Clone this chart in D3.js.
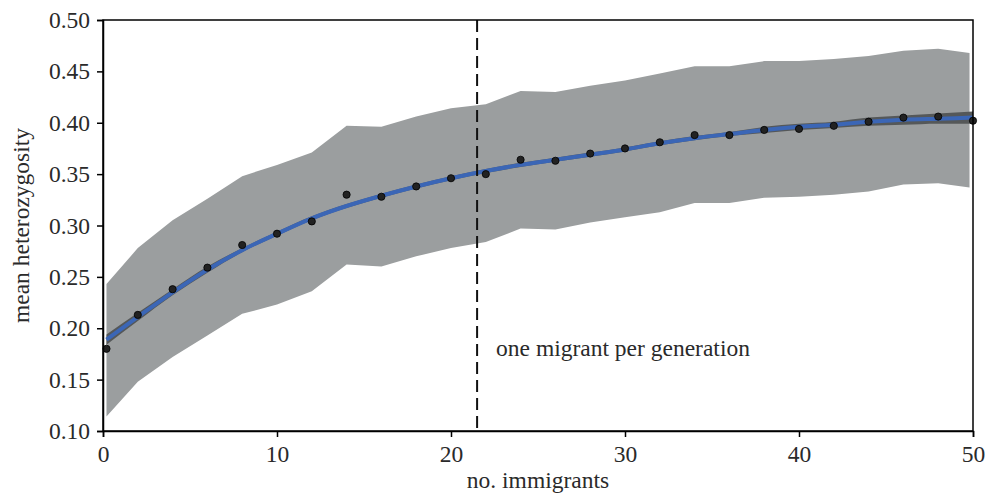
<!DOCTYPE html>
<html>
<head>
<meta charset="utf-8">
<script src="https://cdn.jsdelivr.net/npm/d3@7"></script>
<style>
  html, body { margin: 0; padding: 0; background: #fff; }
  svg { display: block; }
  text { font-family: "Liberation Serif", "Times New Roman", serif; fill: #2a2a2a; }
</style>
</head>
<body>
<svg id="chart" width="987" height="497"></svg>
<script>
// ---- data ----
const pointX = [0.2, 2, 4, 6, 8, 10, 12, 14, 16, 18, 20, 22, 24, 26, 28, 30, 32, 34, 36, 38, 40, 42, 44, 46, 48, 50];
const pointY = [0.180, 0.213, 0.238, 0.259, 0.281, 0.292, 0.304, 0.330, 0.328, 0.338, 0.346, 0.350, 0.364, 0.363, 0.370, 0.375, 0.381, 0.388, 0.388, 0.393, 0.394, 0.397, 0.401, 0.405, 0.406, 0.402];

const bandX = [0.2, 2, 4, 6, 8, 10, 12, 14, 16, 18, 20, 22, 24, 26, 28, 30, 32, 34, 36, 38, 40, 42, 44, 46, 48, 49.8];
const bandUpper = [0.243, 0.278, 0.305, 0.326, 0.348, 0.359, 0.371, 0.397, 0.396, 0.406, 0.414, 0.418, 0.431, 0.430, 0.436, 0.441, 0.448, 0.455, 0.455, 0.460, 0.460, 0.462, 0.465, 0.470, 0.472, 0.468];
const bandLower = [0.114, 0.148, 0.172, 0.193, 0.214, 0.223, 0.236, 0.262, 0.260, 0.270, 0.278, 0.284, 0.297, 0.296, 0.303, 0.308, 0.313, 0.322, 0.322, 0.327, 0.328, 0.330, 0.333, 0.340, 0.341, 0.337];

const fitX = [0.2, 2, 4, 6, 8, 10, 12, 14, 16, 18, 20, 22, 24, 26, 28, 30, 32, 34, 36, 38, 40, 42, 44, 46, 48, 50];
const fitY = [0.189, 0.211, 0.235, 0.257, 0.276, 0.292, 0.307, 0.319, 0.329, 0.338, 0.346, 0.353, 0.359, 0.364, 0.369, 0.374, 0.380, 0.385, 0.389, 0.393, 0.396, 0.398, 0.401, 0.403, 0.404, 0.405];
const fitLower = [0.184, 0.207, 0.232, 0.254, 0.274, 0.290, 0.305, 0.317, 0.327, 0.336, 0.344, 0.351, 0.357, 0.362, 0.367, 0.372, 0.378, 0.383, 0.387, 0.390, 0.393, 0.395, 0.397, 0.398, 0.399, 0.399];
const fitUpper = [0.194, 0.215, 0.238, 0.260, 0.278, 0.294, 0.309, 0.321, 0.331, 0.340, 0.348, 0.355, 0.361, 0.366, 0.371, 0.376, 0.382, 0.387, 0.391, 0.396, 0.399, 0.401, 0.405, 0.407, 0.409, 0.411];

const xTicks = [0, 10, 20, 30, 40, 50];
const yTicks = [0.10, 0.15, 0.20, 0.25, 0.30, 0.35, 0.40, 0.45, 0.50];
const markerX = [21.5];
const markerLabel = "one migrant per generation";
const xLabel = "no. immigrants";
const yLabel = "mean heterozygosity";

// ---- layout ----
const W = 987, H = 497;
const m = { left: 103, right: 14, top: 20, bottom: 66 };
const iw = W - m.left - m.right, ih = H - m.top - m.bottom;
const FS = 23.5;

const svg = d3.select("#chart");
const g = svg.append("g").attr("transform", `translate(${m.left},${m.top})`);

const x = d3.scaleLinear().domain([0, 50]).range([0, iw]);
const y = d3.scaleLinear().domain([0.10, 0.50]).range([ih, 0]);

// grey range band
const bandData = bandX.map((d, i) => ({ x: d, lo: bandLower[i], hi: bandUpper[i] }));
g.append("path")
  .datum(bandData)
  .attr("fill", "#9b9e9f")
  .attr("d", d3.area().x(d => x(d.x)).y0(d => y(d.lo)).y1(d => y(d.hi)));

// fit CI band
const fitData = fitX.map((d, i) => ({ x: d, y: fitY[i], lo: fitLower[i], hi: fitUpper[i] }));
g.append("path")
  .datum(fitData)
  .attr("fill", "#555859")
  .attr("d", d3.area().curve(d3.curveMonotoneX).x(d => x(d.x)).y0(d => y(d.lo)).y1(d => y(d.hi)));

// fit line
g.append("path")
  .datum(fitData)
  .attr("fill", "none")
  .attr("stroke", "#3b66b6")
  .attr("stroke-width", 4)
  .attr("d", d3.line().curve(d3.curveMonotoneX).x(d => x(d.x)).y(d => y(d.y)));

// points
g.selectAll("circle.pt")
  .data(pointX.map((d, i) => ({ x: d, y: pointY[i] })))
  .join("circle")
  .attr("class", "pt")
  .attr("cx", d => x(d.x))
  .attr("cy", d => y(d.y))
  .attr("r", 3.6)
  .attr("fill", "#222")
  .attr("stroke", "#000")
  .attr("stroke-width", 0.8);

// dashed marker line
g.selectAll("line.marker")
  .data(markerX)
  .join("line")
  .attr("class", "marker")
  .attr("x1", d => x(d)).attr("x2", d => x(d))
  .attr("y1", 0).attr("y2", ih)
  .attr("stroke", "#111")
  .attr("stroke-width", 2)
  .attr("stroke-dasharray", "12,6");

g.append("text")
  .attr("x", x(markerX[0]) + 19)
  .attr("y", 336)
  .attr("font-size", FS)
  .text(markerLabel);

// frame
g.append("rect")
  .attr("x", 0).attr("y", 0).attr("width", iw).attr("height", ih)
  .attr("fill", "none").attr("stroke", "#000").attr("stroke-width", 1.5);

// axes
const xAxis = g.append("g")
  .attr("transform", `translate(0,${ih})`)
  .call(d3.axisBottom(x).tickValues(xTicks).tickFormat(d3.format("d")).tickSize(6).tickPadding(8));
const yAxis = g.append("g")
  .call(d3.axisLeft(y).tickValues(yTicks).tickFormat(d3.format(".2f")).tickSize(6).tickPadding(7));

[xAxis, yAxis].forEach(a => {
  a.select(".domain").attr("stroke", "#000").attr("stroke-width", 1.5);
  a.selectAll(".tick line").attr("stroke", "#000").attr("stroke-width", 1.5);
  a.selectAll(".tick text")
    .attr("font-family", "Liberation Serif, Times New Roman, serif")
    .attr("font-size", FS)
    .attr("fill", "#2a2a2a");
});

// axis labels
svg.append("text")
  .attr("x", m.left + iw / 2)
  .attr("y", 488)
  .attr("text-anchor", "middle")
  .attr("font-size", FS)
  .text(xLabel);

svg.append("text")
  .attr("transform", `translate(29,${m.top + ih / 2}) rotate(-90)`)
  .attr("text-anchor", "middle")
  .attr("font-size", FS)
  .text(yLabel);
</script>
</body>
</html>
